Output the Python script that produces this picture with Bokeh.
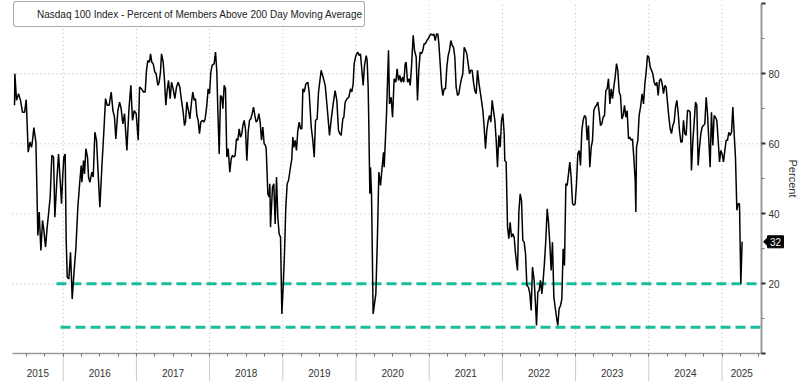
import math
from bokeh.plotting import figure
from bokeh.models import FixedTicker, Range1d, Label, Legend, LegendItem
from bokeh.embed import file_html
from bokeh.resources import INLINE

# ---- data (decimal year, percent of members above 200-day MA) ----
t_2015_2017 = [2015.335, 2015.340, 2015.362, 2015.390, 2015.417, 2015.444, 2015.472, 2015.495,
    2015.522, 2015.545, 2015.567, 2015.581, 2015.599, 2015.627, 2015.654, 2015.672, 2015.695,
    2015.718, 2015.736, 2015.759, 2015.781, 2015.800, 2015.822, 2015.845, 2015.868, 2015.886,
    2015.913, 2015.936, 2015.959, 2015.977, 2015.995, 2016.009, 2016.027, 2016.041, 2016.055,
    2016.077, 2016.100, 2016.123, 2016.146, 2016.173, 2016.200, 2016.228, 2016.246, 2016.255,
    2016.278, 2016.291, 2016.310, 2016.332, 2016.346, 2016.364, 2016.392, 2016.410, 2016.433,
    2016.455, 2016.478, 2016.501, 2016.528, 2016.556, 2016.578, 2016.601, 2016.628, 2016.656,
    2016.679, 2016.701, 2016.719, 2016.747, 2016.770, 2016.792, 2016.815, 2016.838, 2016.870,
    2016.897, 2016.924, 2016.947, 2016.970, 2016.997, 2017.025, 2017.043]
v_2015_2017 = [71.0, 80.0, 72.4, 74.3, 72.4, 69.0, 69.0, 72.6,
    57.6, 60.5, 59.0, 61.0, 64.6, 60.5, 33.8, 40.5, 29.5,
    38.1, 35.2, 30.5, 36.2, 40.0, 44.8, 56.7, 56.2, 39.0,
    49.5, 57.1, 49.5, 42.9, 51.4, 56.2, 57.1, 32.4, 21.9,
    21.4, 29.0, 15.7, 22.9, 30.0, 41.9, 49.5, 53.8, 49.0,
    55.2, 51.4, 58.6, 56.2, 50.5, 49.0, 51.9, 50.5, 63.3,
    61.0, 51.4, 41.9, 53.3, 63.8, 72.9, 71.0, 71.0, 74.8,
    69.5, 67.6, 61.4, 69.5, 71.9, 70.0, 65.7, 68.6, 58.1,
    69.5, 76.7, 66.7, 69.5, 68.6, 61.0, 76.2]

t_2017_2018 = [2017.070, 2017.097, 2017.120, 2017.138, 2017.156, 2017.179, 2017.193, 2017.211,
    2017.229, 2017.252, 2017.270, 2017.293, 2017.311, 2017.329, 2017.343, 2017.366, 2017.384,
    2017.402, 2017.420, 2017.439, 2017.461, 2017.480, 2017.502, 2017.525, 2017.548, 2017.571,
    2017.593, 2017.616, 2017.639, 2017.657, 2017.671, 2017.689, 2017.712, 2017.730, 2017.753,
    2017.771, 2017.789, 2017.807, 2017.826, 2017.844, 2017.862, 2017.880, 2017.903, 2017.921,
    2017.939, 2017.962, 2017.980, 2017.999, 2018.017, 2018.035, 2018.062, 2018.081, 2018.099,
    2018.112, 2018.131, 2018.149, 2018.167, 2018.181, 2018.199, 2018.217, 2018.235, 2018.254,
    2018.276, 2018.295, 2018.313, 2018.331, 2018.349, 2018.367, 2018.386, 2018.404, 2018.422,
    2018.440, 2018.454, 2018.472, 2018.490, 2018.509, 2018.527, 2018.545, 2018.563, 2018.581,
    2018.600, 2018.618, 2018.636, 2018.654, 2018.673, 2018.691, 2018.709, 2018.727, 2018.745,
    2018.764]
v_2017_2018 = [75.7, 74.8, 74.8, 81.0, 83.8, 83.3, 85.7, 83.3,
    82.9, 80.5, 80.0, 76.7, 77.6, 80.5, 85.7, 83.3, 78.1,
    71.0, 75.2, 78.1, 72.9, 77.6, 75.7, 72.9, 76.2, 77.6,
    76.2, 72.4, 69.0, 65.2, 66.2, 71.9, 69.5, 67.1, 71.9,
    74.8, 72.4, 72.9, 68.1, 66.7, 62.9, 66.2, 66.7, 66.2,
    67.1, 71.0, 75.7, 74.3, 80.5, 82.4, 82.9, 86.2, 80.5,
    70.0, 57.1, 73.8, 73.3, 70.0, 76.7, 75.7, 56.2, 58.6,
    51.9, 55.7, 56.7, 56.2, 56.7, 61.4, 61.0, 64.3, 61.9,
    62.9, 65.2, 66.7, 64.3, 55.2, 63.3, 66.7, 67.1, 68.6,
    70.5, 68.1, 66.2, 66.7, 68.6, 66.2, 61.0, 64.8, 60.0,
    59.5]

t_2018_2020 = [2018.773, 2018.796, 2018.814, 2018.823, 2018.832, 2018.859, 2018.877, 2018.896,
    2018.914, 2018.932, 2018.950, 2018.969, 2018.987, 2019.005, 2019.023, 2019.041, 2019.060,
    2019.078, 2019.105, 2019.123, 2019.137, 2019.151, 2019.169, 2019.187, 2019.205, 2019.224,
    2019.242, 2019.260, 2019.274, 2019.292, 2019.315, 2019.342, 2019.360, 2019.388, 2019.410,
    2019.429, 2019.447, 2019.469, 2019.488, 2019.524, 2019.551, 2019.579, 2019.606, 2019.638,
    2019.665, 2019.688, 2019.715, 2019.738, 2019.761, 2019.779, 2019.797, 2019.820, 2019.834,
    2019.852, 2019.879, 2019.902, 2019.925, 2019.943, 2019.961, 2019.975, 2019.998, 2020.025,
    2020.043, 2020.061, 2020.080, 2020.098, 2020.116, 2020.139, 2020.152, 2020.166, 2020.175,
    2020.189, 2020.198, 2020.212, 2020.234, 2020.271, 2020.294, 2020.312, 2020.335, 2020.353,
    2020.376, 2020.385, 2020.417, 2020.444]
v_2018_2020 = [58.6, 45.7, 44.8, 48.6, 36.2, 47.6, 48.6, 37.1,
    50.5, 39.0, 34.3, 33.3, 11.4, 19.0, 28.6, 41.9, 48.6,
    49.5, 53.3, 55.7, 61.9, 59.0, 61.0, 58.1, 63.8, 66.2,
    64.3, 64.3, 75.7, 74.8, 77.1, 77.6, 74.8, 64.8, 61.0,
    56.2, 66.7, 67.1, 74.8, 81.0, 79.0, 76.7, 70.5, 62.4,
    67.6, 71.4, 75.2, 72.4, 63.8, 62.9, 62.4, 67.1, 67.6,
    71.9, 72.9, 73.3, 75.7, 74.8, 77.1, 82.9, 85.2, 86.2,
    85.2, 85.7, 81.0, 76.7, 82.4, 85.2, 83.8, 76.2, 65.7,
    45.7, 53.3, 45.7, 11.4, 17.1, 34.3, 51.9, 48.1, 52.4,
    57.6, 53.3, 68.6, 86.7]

t_2020_2022 = [2020.458, 2020.480, 2020.499, 2020.521, 2020.544, 2020.562, 2020.581, 2020.599,
    2020.617, 2020.635, 2020.653, 2020.672, 2020.685, 2020.704, 2020.722, 2020.740, 2020.758,
    2020.781, 2020.799, 2020.822, 2020.840, 2020.858, 2020.877, 2020.895, 2020.913, 2020.931,
    2020.949, 2020.968, 2020.986, 2021.009, 2021.027, 2021.045, 2021.063, 2021.082, 2021.100,
    2021.118, 2021.132, 2021.150, 2021.168, 2021.186, 2021.204, 2021.223, 2021.241, 2021.259,
    2021.277, 2021.296, 2021.314, 2021.332, 2021.350, 2021.368, 2021.387, 2021.405, 2021.423,
    2021.441, 2021.459, 2021.478, 2021.496, 2021.514, 2021.532, 2021.551, 2021.569, 2021.587,
    2021.605, 2021.623, 2021.642, 2021.660, 2021.678, 2021.696, 2021.714, 2021.733, 2021.751,
    2021.769, 2021.787, 2021.806, 2021.824, 2021.842, 2021.860, 2021.878, 2021.897, 2021.915,
    2021.933, 2021.951, 2021.970, 2021.988, 2022.006, 2022.024, 2022.033, 2022.051, 2022.070,
    2022.088, 2022.106, 2022.124, 2022.143, 2022.161, 2022.179]
v_2020_2022 = [71.4, 73.3, 67.6, 78.6, 77.6, 81.4, 78.1, 79.5,
    77.6, 79.0, 77.6, 82.9, 83.3, 77.6, 78.6, 76.7, 81.9,
    91.0, 86.7, 84.8, 72.4, 81.0, 86.2, 85.7, 86.7, 88.6,
    88.6, 89.5, 90.0, 91.0, 91.4, 91.0, 91.4, 89.5, 91.4,
    91.4, 88.6, 82.9, 76.7, 73.8, 75.7, 75.7, 81.9, 85.2,
    86.7, 89.5, 88.1, 87.6, 84.8, 76.2, 73.8, 74.3, 76.7,
    78.6, 80.0, 87.6, 86.7, 85.7, 82.9, 80.0, 81.0, 81.0,
    77.6, 75.2, 74.3, 81.0, 77.6, 75.0, 72.4, 69.5, 64.8,
    58.6, 63.8, 66.7, 68.1, 66.2, 72.4, 69.5, 66.7, 61.0,
    53.3, 62.4, 59.0, 66.7, 68.6, 62.9, 55.2, 54.8, 36.2,
    32.9, 37.6, 33.3, 34.3, 33.3, 28.6]

t_2022_2023 = [2022.206, 2022.225, 2022.243, 2022.261, 2022.279, 2022.297, 2022.316, 2022.334,
    2022.357, 2022.375, 2022.393, 2022.411, 2022.434, 2022.452, 2022.466, 2022.484, 2022.502,
    2022.520, 2022.539, 2022.557, 2022.575, 2022.593, 2022.612, 2022.630, 2022.648, 2022.666,
    2022.684, 2022.703, 2022.721, 2022.739, 2022.757, 2022.775, 2022.794, 2022.812, 2022.830,
    2022.848, 2022.867, 2022.885, 2022.903, 2022.921, 2022.939, 2022.958, 2022.976, 2022.994,
    2023.012, 2023.030, 2023.049, 2023.067, 2023.085, 2023.103, 2023.122, 2023.140, 2023.158,
    2023.176, 2023.194, 2023.213, 2023.231, 2023.249, 2023.267, 2023.285, 2023.304, 2023.322,
    2023.340, 2023.358, 2023.377, 2023.395, 2023.413, 2023.431, 2023.449, 2023.468, 2023.486,
    2023.504, 2023.522, 2023.540, 2023.559, 2023.577, 2023.595, 2023.613, 2023.632, 2023.650,
    2023.668, 2023.686, 2023.704, 2023.723, 2023.741, 2023.759, 2023.777, 2023.795, 2023.814,
    2023.823]
v_2022_2023 = [23.8, 40.5, 45.7, 43.8, 32.4, 31.9, 28.6, 19.5,
    19.0, 17.1, 12.4, 24.8, 21.0, 14.3, 8.1, 17.6, 18.1,
    21.0, 17.1, 21.0, 26.2, 32.4, 41.4, 37.6, 31.4, 23.8,
    31.9, 16.2, 13.3, 10.5, 8.1, 12.9, 13.8, 15.7, 30.0,
    25.2, 48.6, 48.1, 51.4, 54.8, 50.5, 42.9, 42.4, 42.9,
    48.6, 57.1, 58.1, 53.8, 63.8, 66.7, 68.1, 67.6, 61.0,
    65.2, 53.3, 59.0, 61.0, 69.5, 70.5, 71.0, 71.9, 69.0,
    65.2, 65.7, 67.6, 68.1, 75.2, 75.7, 78.6, 71.4, 75.7,
    72.9, 76.2, 79.0, 82.9, 81.0, 74.8, 73.8, 67.1, 68.1,
    71.0, 67.6, 69.5, 61.4, 61.9, 61.0, 61.4, 56.2, 49.5,
    40.5]

t_2023_2025 = [2023.832, 2023.850, 2023.868, 2023.887, 2023.909, 2023.928, 2023.946, 2023.964,
    2023.982, 2024.000, 2024.019, 2024.037, 2024.055, 2024.073, 2024.091, 2024.110, 2024.128,
    2024.146, 2024.164, 2024.183, 2024.201, 2024.219, 2024.237, 2024.255, 2024.274, 2024.292,
    2024.310, 2024.328, 2024.346, 2024.365, 2024.383, 2024.401, 2024.419, 2024.438, 2024.456,
    2024.474, 2024.492, 2024.510, 2024.529, 2024.547, 2024.565, 2024.583, 2024.601, 2024.620,
    2024.638, 2024.656, 2024.674, 2024.693, 2024.711, 2024.729, 2024.747, 2024.765, 2024.784,
    2024.802, 2024.820, 2024.838, 2024.856, 2024.875, 2024.893, 2024.911, 2024.929, 2024.948,
    2024.966, 2024.984, 2025.002, 2025.020, 2025.039, 2025.057, 2025.075, 2025.093, 2025.111,
    2025.130, 2025.148, 2025.166, 2025.184, 2025.203, 2025.221, 2025.239, 2025.257, 2025.275]
v_2023_2025 = [59.0, 61.0, 68.1, 70.5, 74.3, 71.4, 77.1, 80.5,
    85.2, 84.8, 81.9, 81.0, 80.0, 77.6, 76.7, 77.6, 73.8,
    78.1, 78.6, 77.1, 74.3, 76.7, 76.2, 71.9, 67.6, 64.3,
    62.9, 65.2, 66.2, 70.5, 72.4, 69.0, 63.8, 60.5, 60.5,
    66.7, 62.9, 62.4, 69.5, 69.5, 69.0, 52.4, 60.5, 66.2,
    71.9, 71.0, 53.8, 59.0, 62.9, 64.8, 65.2, 65.7, 73.3,
    68.6, 61.0, 53.3, 69.0, 59.5, 68.1, 67.6, 66.7, 61.0,
    54.8, 58.1, 57.1, 54.8, 58.1, 61.0, 61.0, 63.3, 62.4,
    63.3, 70.5, 62.9, 56.2, 41.0, 42.9, 42.9, 20.0, 32.0]

series_t = t_2015_2017 + t_2017_2018 + t_2018_2020 + t_2020_2022 + t_2022_2023 + t_2023_2025
series_v = v_2015_2017 + v_2017_2018 + v_2018_2020 + v_2020_2022 + v_2022_2023 + v_2023_2025

series_name = "Nasdaq 100 Index - Percent of Members Above 200 Day Moving Average"
threshold_levels = [20.0, 7.6]
threshold_starts = [2015.908, 2015.963]
year_labels = ["2015", "2016", "2017", "2018", "2019", "2020", "2021", "2022", "2023", "2024", "2025"]
y_ticks = [0, 20, 40, 60, 80, 100]
y_minor = [10, 30, 50, 70, 90]

# ---- layout ----
W, H = 800, 381
X0, X1 = 2015.307, 2025.540          # plotted time span (axis drawn at X1)
Y0, Y1 = 0, 100                      # value axis span
T0, T1 = 2015.1434, 2026.0724        # canvas-wide x range
V0, V1 = -7.914, 100.943             # canvas-wide y range
FONT = "Liberation Sans"
TEAL = "#17BE9E"
GRID = "#b4b4b4"
TXT = "#333333"

p = figure(width=W, height=H, x_range=Range1d(T0, T1), y_range=Range1d(V0, V1),
           output_backend="svg", toolbar_location=None, min_border=0,
           min_border_left=0, min_border_right=0, min_border_top=0, min_border_bottom=0)
p.outline_line_color = None
p.background_fill_color = "white"
p.border_fill_color = "white"
p.xgrid.visible = False
p.ygrid.visible = False

dx = (T1 - T0) / W     # data units per pixel
dy = (V1 - V0) / H

first_year = int(year_labels[0])
boundaries = [first_year + i for i in range(1, len(year_labels))]
quarters = [first_year + i + q / 4 for i in range(len(year_labels)) for q in (0, 1, 2, 3)
            if X0 < first_year + i + q / 4 < X1]
centers = [(max(first_year + i, X0) + min(first_year + i + 1, X1)) / 2 for i in range(len(year_labels))]

# grid (dotted) inside the plot area
p.segment(x0=boundaries, y0=[Y0] * len(boundaries), x1=boundaries, y1=[Y1] * len(boundaries),
          line_color=GRID, line_dash="1 3", line_width=1)
gy = y_ticks[1:-1]
p.segment(x0=[X0] * len(gy), y0=gy, x1=[X1] * len(gy), y1=gy,
          line_color=GRID, line_dash="1 3", line_width=1)
# year separators below the axis
p.segment(x0=boundaries, y0=[Y0] * len(boundaries), x1=boundaries, y1=[V0] * len(boundaries),
          line_color="#c8c8c8", line_width=1)

# x axis at value 0
xa = p.xaxis[0]
xa.fixed_location = Y0
xa.bounds = (X0, X1)
xa.ticker = FixedTicker(ticks=centers, minor_ticks=quarters)
xa.major_label_overrides = {c: lab for c, lab in zip(centers, year_labels)}
xa.major_tick_in = 0
xa.major_tick_out = 0
xa.major_tick_line_color = None
xa.minor_tick_in = 0
xa.minor_tick_out = 3
xa.minor_tick_line_color = "#777777"
xa.axis_line_color = "#9a9a9a"
xa.axis_line_width = 1.5
xa.major_label_text_font = FONT
xa.major_label_text_font_size = "10px"
xa.major_label_text_color = TXT
xa.major_label_standoff = 12

# y axis on the right, at X1
ya_list = p.yaxis
ya = ya_list[0]
p.left.remove(ya)
p.add_layout(ya, "right")
ya.fixed_location = X1
ya.bounds = (Y0, Y1)
ya.ticker = FixedTicker(ticks=y_ticks, minor_ticks=y_minor)
ya.major_label_overrides = {y_ticks[0]: "", y_ticks[-1]: ""}
ya.major_tick_in = 0
ya.major_tick_out = 4
ya.major_tick_line_width = 2
ya.major_tick_line_color = "#333333"
ya.minor_tick_in = 0
ya.minor_tick_out = 3
ya.minor_tick_line_color = "#777777"
ya.axis_line_color = "#9a9a9a"
ya.axis_line_width = 2
ya.major_label_text_font = FONT
ya.major_label_text_font_size = "10px"
ya.major_label_text_color = TXT
ya.major_label_standoff = 3
ya.axis_label = "Percent"
ya.axis_label_text_font = FONT
ya.axis_label_text_font_size = "11px"
ya.axis_label_text_font_style = "normal"
ya.axis_label_text_color = TXT
ya.axis_label_standoff = 4

# thresholds
for lvl, st in zip(threshold_levels, threshold_starts):
    p.line([st, X1], [lvl, lvl], line_color=TEAL, line_width=3, line_dash="10 5")

# main series
p.line(series_t, series_v, line_color="black", line_width=1.5)

# legend
dummy = p.scatter(x=[], y=[], marker="square", size=8, fill_color="black", line_color="black")
leg_kw = dict(items=[LegendItem(label=series_name, renderers=[dummy])],
              location=(13, H - 27), border_line_color="#555555", border_line_width=1,
              background_fill_color="white", background_fill_alpha=1, label_text_font=FONT,
              label_text_font_size="10px", label_text_color="#222222", glyph_width=20,
              glyph_height=20, label_height=20, padding=2, margin=0, spacing=0, label_standoff=1)
if "border_radius" in Legend.properties():
    leg_kw["border_radius"] = 3
p.add_layout(Legend(**leg_kw))

# last value tag at the right axis
last_v = series_v[-1]
p.patch([X1 + 2 * dx, X1 + 7 * dx, X1 + 7 * dx], [last_v, last_v + 5 * dy, last_v - 5 * dy],
        fill_color="black", line_color="black")
p.quad(left=[X1 + 6 * dx], right=[X1 + 22 * dx], bottom=[last_v - 6 * dy], top=[last_v + 6 * dy],
       fill_color="black", line_color="black")
p.add_layout(Label(x=X1 + 14 * dx, y=last_v, text=f"{last_v:.0f}", text_baseline="middle",
                   text_align="center", text_color="white", text_font=FONT, text_font_size="10px"))

open("out.html", "w").write(file_html(p, INLINE))
